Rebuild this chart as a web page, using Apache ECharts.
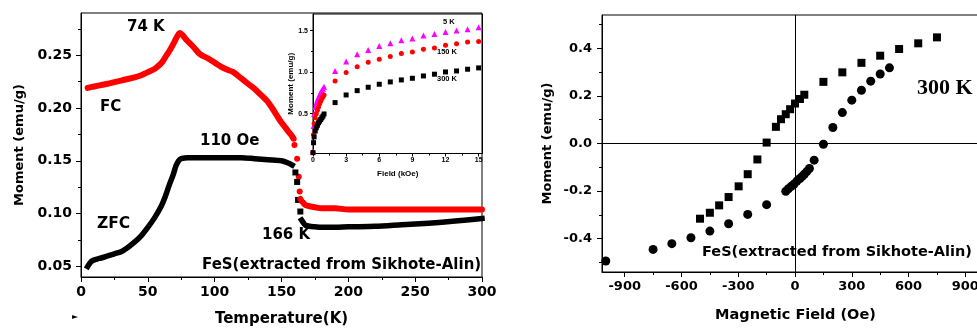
<!DOCTYPE html>
<html>
<head>
<meta charset="utf-8">
<script src="https://cdn.jsdelivr.net/npm/echarts@6/dist/echarts.min.js"></script>
<style>html,body{margin:0;padding:0;background:#fff}#c{width:977px;height:329px}</style>
</head>
<body>
<div id="c"></div>
<script>
// ---- Main panel: Moment vs Temperature (FC / ZFC, 110 Oe) ----
const fcBefore = [[5,0.219],[8,0.220],[12,0.221],[16,0.222],[20,0.223],[25,0.2245],[30,0.226],[35,0.2275],[40,0.229],[45,0.231],[50,0.234],[55,0.237],[58,0.240],[61,0.244],[64,0.250],[67,0.256],[70,0.263],[72,0.268],[74,0.271],[76,0.269],[79,0.2645],[84,0.258],[89,0.251],[95,0.247],[100,0.243],[105,0.239],[110,0.236],[114,0.234],[120,0.228],[125,0.223],[130,0.218],[135,0.212],[139,0.207],[143,0.200],[146,0.194],[149,0.188],[152,0.183],[155,0.178],[157,0.175],[158.5,0.172]];
const fcDrop = [[159.1,0.171],[159.7,0.165],[161.7,0.152],[162.9,0.135],[163.6,0.121]];
const fcAfter = [[164.1,0.114],[165,0.112],[166.5,0.110],[168,0.108],[171,0.107],[175,0.106],[180,0.105],[190,0.105],[200,0.104],[220,0.104],[250,0.104],[275,0.104],[300,0.104]];

const zfcBefore = [[5,0.050],[6,0.052],[8,0.055],[12,0.057],[15,0.058],[20,0.060],[25,0.062],[30,0.064],[35,0.068],[40,0.073],[45,0.079],[50,0.087],[55,0.096],[60,0.107],[63,0.116],[66,0.127],[69,0.137],[71,0.145],[73,0.150],[75,0.152],[80,0.153],[90,0.153],[100,0.153],[110,0.153],[120,0.153],[130,0.152],[140,0.151],[150,0.150],[155,0.148],[158,0.146]];
const zfcDrop = [[160.4,0.139],[161.7,0.130],[162.4,0.113],[164.1,0.102]];
const zfcAfter = [[165,0.094],[166.6,0.091],[168,0.089],[171,0.088],[175,0.0875],[180,0.087],[190,0.087],[200,0.0875],[220,0.088],[240,0.0895],[260,0.091],[280,0.093],[300,0.0955]];

const tempTicks = [0,50,100,150,200,250,300];
const momentTicks = [0.05,0.10,0.15,0.20,0.25];
const momentMinor = [0.075,0.125,0.175,0.225,0.275];

// ---- Inset: Moment vs Field (kOe) ----
const inset5K = [[0,0.05],[0.05,0.35],[0.1,0.50],[0.2,0.58],[0.3,0.63],[0.4,0.67],[0.5,0.70],[0.6,0.73],[0.7,0.76],[0.8,0.78],[0.9,0.80],[1,0.825],[2,1.014],[3,1.127],[4,1.216],[5,1.267],[6,1.316],[7,1.348],[8,1.384],[9,1.404],[10,1.440],[11,1.460],[12,1.484],[13,1.500],[14,1.517],[15,1.541]];
const inset150K = [[0,0.03],[0.05,0.25],[0.1,0.38],[0.2,0.45],[0.3,0.50],[0.4,0.54],[0.5,0.58],[0.6,0.62],[0.7,0.65],[0.8,0.68],[0.9,0.70],[1,0.725],[2,0.894],[3,0.994],[4,1.066],[5,1.119],[6,1.155],[7,1.187],[8,1.223],[9,1.243],[10,1.276],[11,1.292],[12,1.324],[13,1.343],[14,1.364],[15,1.368]];
const inset300K = [[0,0.03],[0.05,0.15],[0.1,0.22],[0.2,0.29],[0.3,0.33],[0.4,0.36],[0.5,0.39],[0.6,0.41],[0.7,0.43],[0.8,0.45],[0.9,0.47],[1,0.496],[2,0.633],[3,0.725],[4,0.777],[5,0.818],[6,0.854],[7,0.882],[8,0.906],[9,0.926],[10,0.954],[11,0.975],[12,1.002],[13,1.014],[14,1.035],[15,1.051]];
const fieldTicks = [0,3,6,9,12,15];
const fieldMinor = [1.5,4.5,7.5,10.5,13.5];
const insetMTicks = [0.5,1.0,1.5];
const insetMMinor = [0.25,0.75,1.25];

// ---- Right panel: hysteresis at 300 K ----
const loopSquares = [[-502,-0.316],[-450,-0.291],[-401,-0.260],[-351,-0.225],[-298,-0.180],[-250,-0.129],[-199,-0.067],[-150,0.004],[-101,0.070],[-74,0.102],[-49,0.123],[-26,0.144],[0,0.168],[26,0.187],[49,0.205],[150,0.259],[250,0.299],[351,0.339],[450,0.369],[550,0.397],[651,0.421],[750,0.446]];
const loopCircles = [[-1000,-0.494],[-750,-0.445],[-651,-0.421],[-550,-0.396],[-450,-0.368],[-351,-0.337],[-250,-0.298],[-150,-0.257],[-49,-0.201],[-35,-0.190],[-20,-0.180],[-5,-0.170],[10,-0.158],[26,-0.147],[38,-0.138],[49,-0.129],[62,-0.118],[76,-0.105],[101,-0.070],[150,-0.003],[200,0.067],[250,0.130],[300,0.182],[351,0.224],[400,0.262],[450,0.292],[499,0.318]];
const hTicks = [-900,-600,-300,0,300,600,900];
const hMinor = [-750,-450,-150,150,450,750];
const loopMTicks = [-0.4,-0.2,0,0.2,0.4];
const loopMMinor = [-0.5,-0.3,-0.1,0.1,0.3,0.5];

const FONT = 'DejaVu Sans';
const black = '#000';
const axLine = {show:true, onZero:false, lineStyle:{color:black, width:1}};

function minorAxis(grid, pos, min, max, vals, len){
  return {type:'value', gridIndex:grid, position:pos, min:min, max:max,
    axisLine:{show:false, onZero:false}, axisLabel:{show:false}, splitLine:{show:false},
    axisTick:{show:true, customValues:vals, length:len, lineStyle:{color:black}}};
}

const chart = echarts.init(document.getElementById('c'), null, {renderer:'canvas'});
const option = {
  animation:false,
  backgroundColor:'#fff',
  textStyle:{fontFamily:FONT},
  grid:[
    {left:81, top:13, width:401, height:264, show:true, borderColor:black, borderWidth:1, backgroundColor:'transparent', outerBoundsMode:'none', containLabel:false},
    {left:313, top:14, width:169.5, height:139.5, show:true, borderColor:black, borderWidth:1, backgroundColor:'transparent', outerBoundsMode:'none', containLabel:false},
    {left:602, top:15, width:387, height:257, show:true, borderColor:black, borderWidth:1, backgroundColor:'transparent', outerBoundsMode:'none', containLabel:false}
  ],
  xAxis:[
    {type:'value', gridIndex:0, position:'bottom', min:0, max:300, interval:50,
      axisLine:axLine, splitLine:{show:false},
      axisTick:{show:true, length:5, lineStyle:{color:black}},
      minorTick:{show:true, splitNumber:2, length:3, lineStyle:{color:black}},
      axisLabel:{color:black, fontWeight:'bold', fontSize:14, margin:8, fontFamily:FONT},
      name:'Temperature(K)', nameLocation:'middle', nameGap:35,
      nameTextStyle:{color:black, fontWeight:'bold', fontSize:15, fontFamily:FONT}},
    {type:'value', gridIndex:1, position:'bottom', min:0, max:15.35,
      axisLine:axLine, splitLine:{show:false},
      axisTick:{show:true, customValues:fieldTicks, length:3, lineStyle:{color:black}},
      axisLabel:{customValues:fieldTicks, color:black, fontWeight:'bold', fontSize:7, margin:3, fontFamily:'Liberation Sans'},
      name:'Field (kOe)', nameLocation:'middle', nameGap:16,
      nameTextStyle:{color:black, fontWeight:'bold', fontSize:8, fontFamily:'Liberation Sans'}},
    minorAxis(1, 'bottom', 0, 15.35, fieldMinor, 2),
    {type:'value', gridIndex:2, position:'bottom', min:-1020, max:1025,
      axisLine:axLine, splitLine:{show:false},
      axisTick:{show:true, customValues:hTicks, length:5, lineStyle:{color:black}},
      axisLabel:{customValues:hTicks, color:black, fontWeight:'bold', fontSize:13, margin:8, fontFamily:FONT},
      name:'Magnetic Field (Oe)', nameLocation:'middle', nameGap:36,
      nameTextStyle:{color:black, fontWeight:'bold', fontSize:14.5, fontFamily:FONT}},
    minorAxis(2, 'bottom', -1020, 1025, hMinor, 3)
  ],
  yAxis:[
    {type:'value', gridIndex:0, position:'left', min:0.04, max:0.29,
      axisLine:axLine, splitLine:{show:false},
      axisTick:{show:true, customValues:momentTicks, length:5, lineStyle:{color:black}},
      axisLabel:{customValues:momentTicks, color:black, fontWeight:'bold', fontSize:14, margin:9, fontFamily:FONT,
        formatter:v=>v.toFixed(2)},
      name:'Moment (emu/g)', nameLocation:'middle', nameGap:55,
      nameTextStyle:{color:black, fontWeight:'bold', fontSize:13, fontFamily:FONT}},
    minorAxis(0, 'left', 0.04, 0.29, momentMinor, 3),
    {type:'value', gridIndex:1, position:'left', min:0.02, max:1.7,
      axisLine:axLine, splitLine:{show:false},
      axisTick:{show:true, customValues:insetMTicks, length:3, lineStyle:{color:black}},
      axisLabel:{customValues:insetMTicks, color:black, fontWeight:'bold', fontSize:7, margin:5, fontFamily:'Liberation Sans',
        formatter:v=>v.toFixed(1)},
      name:'Moment (emu/g)', nameLocation:'middle', nameGap:17,
      nameTextStyle:{color:black, fontWeight:'bold', fontSize:8, fontFamily:'Liberation Sans'}},
    minorAxis(1, 'left', 0.02, 1.7, insetMMinor, 2),
    {type:'value', gridIndex:2, position:'left', min:-0.54, max:0.54,
      axisLine:axLine, splitLine:{show:false},
      axisTick:{show:true, customValues:loopMTicks, length:5, lineStyle:{color:black}},
      axisLabel:{customValues:loopMTicks, color:black, fontWeight:'bold', fontSize:13, margin:10, fontFamily:FONT,
        formatter:v=>v.toFixed(1)},
      name:'Moment (emu/g)', nameLocation:'middle', nameGap:48,
      nameTextStyle:{color:black, fontWeight:'bold', fontSize:13, fontFamily:FONT}},
    minorAxis(2, 'left', -0.54, 0.54, loopMMinor, 3)
  ],
  series:[
    {type:'line', xAxisIndex:0, yAxisIndex:0, data:fcBefore, showSymbol:false, smooth:0.3,
      lineStyle:{color:'#ff0000', width:6, cap:'round', join:'round'}},
    {type:'scatter', xAxisIndex:0, yAxisIndex:0, data:fcDrop, symbol:'circle', symbolSize:6, itemStyle:{color:'#ff0000', opacity:1}},
    {type:'line', xAxisIndex:0, yAxisIndex:0, data:fcAfter, showSymbol:false, smooth:0.3,
      lineStyle:{color:'#ff0000', width:6, cap:'round', join:'round'}},
    {type:'line', xAxisIndex:0, yAxisIndex:0, data:zfcBefore, showSymbol:false, smooth:0.3,
      lineStyle:{color:black, width:5.5, cap:'square', join:'round'}},
    {type:'scatter', xAxisIndex:0, yAxisIndex:0, data:zfcDrop, symbol:'rect', symbolSize:6, itemStyle:{color:black, opacity:1}},
    {type:'line', xAxisIndex:0, yAxisIndex:0, data:zfcAfter, showSymbol:false, smooth:0.3,
      lineStyle:{color:black, width:5.5, cap:'square', join:'round'}},

    {type:'scatter', xAxisIndex:1, yAxisIndex:2, data:inset5K, symbol:'triangle', symbolSize:6, itemStyle:{color:'#ff00ff', opacity:1}},
    {type:'scatter', xAxisIndex:1, yAxisIndex:2, data:inset150K, symbol:'circle', symbolSize:5, itemStyle:{color:'#ff0000', opacity:1}},
    {type:'scatter', xAxisIndex:1, yAxisIndex:2, data:inset300K, symbol:'rect', symbolSize:5, itemStyle:{color:black, opacity:1}},

    {type:'scatter', xAxisIndex:3, yAxisIndex:4, data:loopSquares, symbol:'rect', symbolSize:8, itemStyle:{color:black, opacity:1},
      markLine:{silent:true, symbol:['none','none'], label:{show:false}, animation:false,
        lineStyle:{color:black, type:'solid', width:1},
        data:[{xAxis:0},{yAxis:0}]}},
    {type:'scatter', xAxisIndex:3, yAxisIndex:4, data:loopCircles, symbol:'circle', symbolSize:9, itemStyle:{color:black, opacity:1}}
  ],
  graphic:[
    {type:'text', left:127, top:20, style:{text:'74 K', font:'bold 15px "DejaVu Sans"', fill:black}},
    {type:'text', left:100, top:100, style:{text:'FC', font:'bold 15px "DejaVu Sans"', fill:black}},
    {type:'text', left:200, top:134, style:{text:'110 Oe', font:'bold 15px "DejaVu Sans"', fill:black}},
    {type:'text', left:97, top:216, style:{text:'ZFC', font:'bold 15.5px "DejaVu Sans"', fill:black}},
    {type:'text', left:262, top:228, style:{text:'166 K', font:'bold 15px "DejaVu Sans"', fill:black}},
    {type:'text', left:202, top:258, style:{text:'FeS(extracted from Sikhote-Alin)', font:'bold 15px "DejaVu Sans"', fill:black}},
    {type:'text', left:443, top:18, style:{text:'5 K', font:'bold 7.5px "Liberation Sans"', fill:black}},
    {type:'text', left:437, top:48, style:{text:'150 K', font:'bold 7.5px "Liberation Sans"', fill:black}},
    {type:'text', left:437, top:75, style:{text:'300 K', font:'bold 7.5px "Liberation Sans"', fill:black}},
    {type:'text', left:917, top:77, style:{text:'300 K', font:'bold 22px "Liberation Serif"', fill:black}},
    {type:'text', left:702, top:245, style:{text:'FeS(extracted from Sikhote-Alin)', font:'bold 14.5px "DejaVu Sans"', fill:black}},
    {type:'text', left:72, top:313, style:{text:'►', font:'8px "DejaVu Sans"', fill:black}}
  ]
};
chart.setOption(option);
</script>
</body>
</html>
